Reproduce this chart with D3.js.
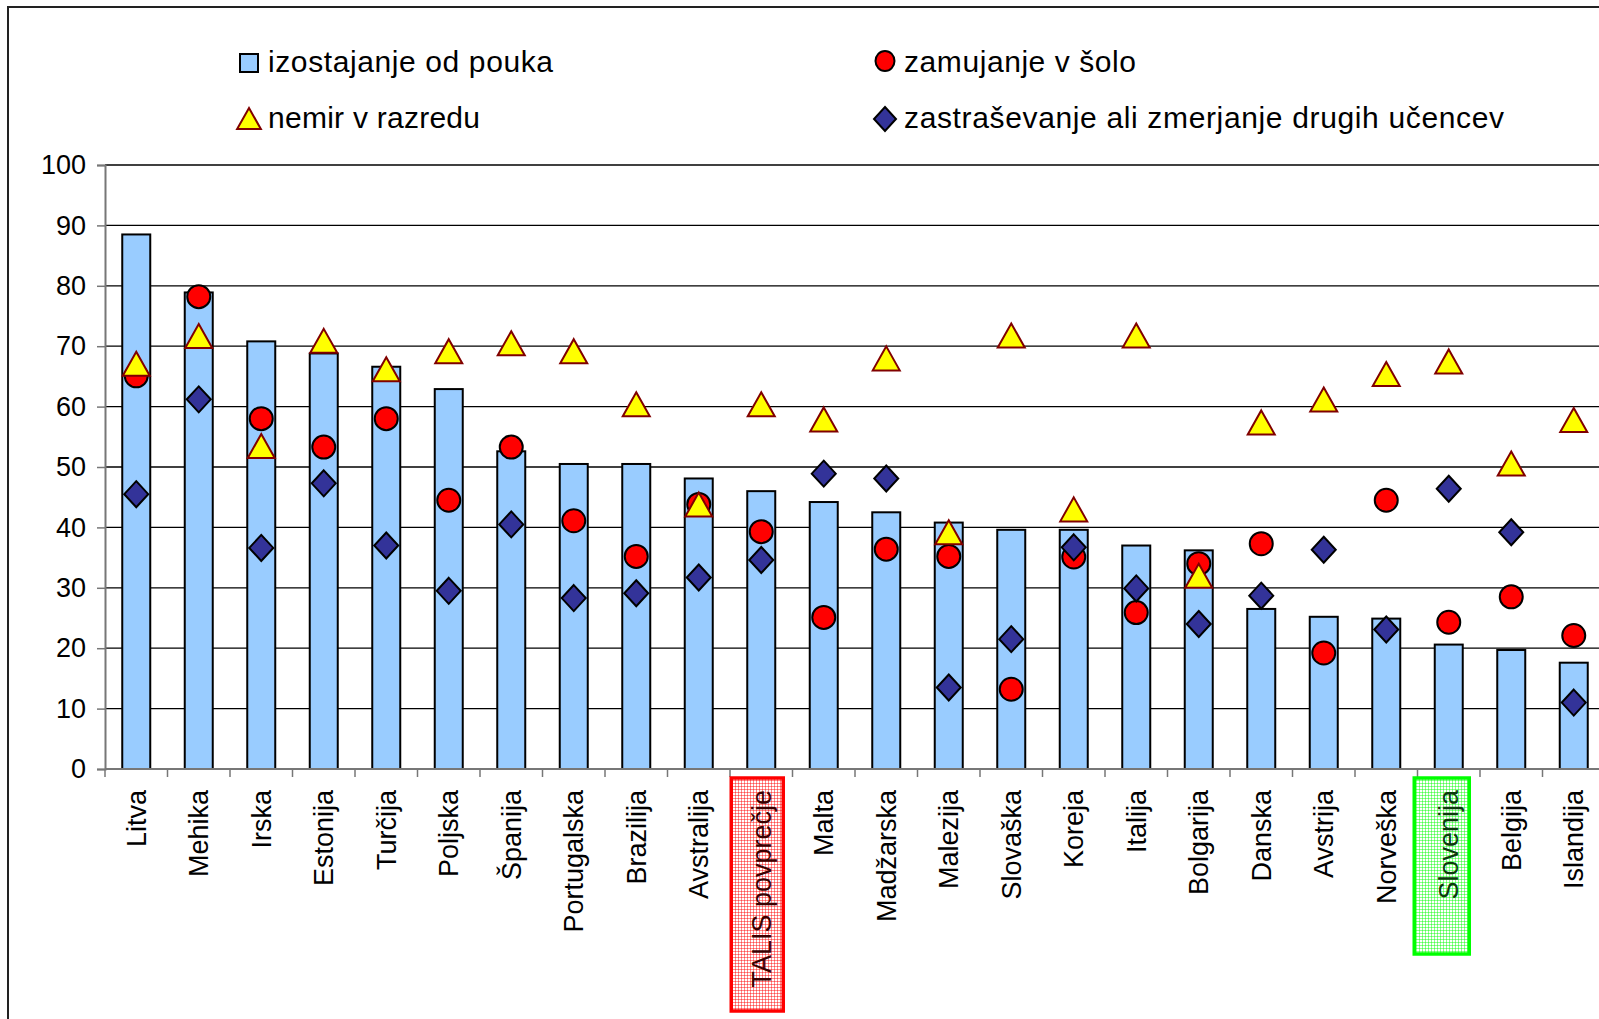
<!DOCTYPE html>
<html>
<head>
<meta charset="utf-8">
<script src="https://cdn.jsdelivr.net/npm/d3@7"></script>
<style>
  html, body { margin: 0; padding: 0; background: #fff; overflow: hidden; }
  text { font-family: "Liberation Sans", Arial, sans-serif; fill: #000; }
</style>
</head>
<body>
<svg id="chart"></svg>
<script>
let width = 1599
let height = 1019

// data
let categories = ['Litva', 'Mehika', 'Irska', 'Estonija', 'Turčija', 'Poljska', 'Španija', 'Portugalska',
    'Brazilija', 'Avstralija', 'TALIS povprečje', 'Malta', 'Madžarska', 'Malezija', 'Slovaška', 'Koreja',
    'Italija', 'Bolgarija', 'Danska', 'Avstrija', 'Norveška', 'Slovenija', 'Belgija', 'Islandija']

let absence = [88.5, 78.9, 70.8, 68.8, 66.6, 62.9, 52.6, 50.5, 50.5, 48.1, 46.0, 44.2,
    42.5, 40.8, 39.6, 39.6, 37.0, 36.2, 26.5, 25.2, 24.9, 20.6, 19.7, 17.6]
let late = [65.1, 78.2, 58.0, 53.3, 58.0, 44.5, 53.3, 41.1, 35.2, 43.8, 39.3, 25.1,
    36.4, 35.2, 13.2, 35.1, 25.9, 34.0, 37.3, 19.2, 44.5, 24.3, 28.5, 22.1]
let disruption = [67.0, 71.6, 53.4, 70.8, 66.1, 69.1, 70.4, 69.1, 60.3, 43.7, 60.3, 57.8,
    67.9, 39.1, 71.7, 42.9, 71.7, 31.9, 57.3, 61.1, 65.3, 67.4, 50.5, 57.7]
let bullying = [45.5, 61.2, 36.6, 47.3, 37.0, 29.5, 40.5, 28.3, 29.1, 31.7, 34.6, 48.9,
    48.1, 13.5, 21.5, 36.7, 29.9, 24.0, 28.7, 36.3, 23.1, 46.4, 39.2, 11.0]

let seriesNames = ['izostajanje od pouka', 'zamujanje v šolo', 'nemir v razredu',
    'zastraševanje ali zmerjanje drugih učencev']
let yTicks = [0, 10, 20, 30, 40, 50, 60, 70, 80, 90, 100]

let highlighted = ['TALIS povprečje', 'Slovenija']

let svg = d3.select('#chart')
    .attr('width', width)
    .attr('height', height)

let defs = svg.append('defs')
let makeGrid = (id, color) => {
    let p = defs.append('pattern')
        .attr('id', id)
        .attr('width', 3)
        .attr('height', 3)
        .attr('patternUnits', 'userSpaceOnUse')
    p.append('rect').attr('width', 3).attr('height', 3).attr('fill', '#fff')
    p.append('rect').attr('width', 3).attr('height', 1).attr('fill', color).attr('fill-opacity', 0.45)
    p.append('rect').attr('width', 1).attr('height', 3).attr('fill', color).attr('fill-opacity', 0.45)
}
makeGrid('gridRed', '#ff0000')
makeGrid('gridGreen', '#00ff00')

// outer frame (cut off on the right and bottom)
svg.append('rect')
    .attr('x', 8).attr('y', 7)
    .attr('width', 1700).attr('height', 1100)
    .attr('fill', 'none')
    .attr('stroke', '#222')
    .attr('stroke-width', 2)

let x = d3.scaleBand().domain(categories).range([105, 1605]).padding(0)
let y = d3.scaleLinear().domain([0, 100]).range([769, 165])
let bw = x.bandwidth()
let cx = (c) => x(c) + bw / 2

// gridlines
svg.append('g')
    .selectAll('line')
    .data(yTicks.filter(d => d > 0))
    .enter()
    .append('line')
    .attr('x1', 105).attr('x2', 1605)
    .attr('y1', d => y(d)).attr('y2', d => y(d))
    .attr('stroke', '#000')
    .attr('stroke-width', 1.3)

// y axis
let yAxis = svg.append('g')
    .attr('transform', 'translate(105,0)')
    .call(d3.axisLeft(y).tickValues(yTicks).tickSize(8).tickPadding(11))
yAxis.select('.domain').attr('stroke', '#777').attr('stroke-width', 2)
yAxis.selectAll('.tick line').attr('stroke', '#777').attr('stroke-width', 1.5)
yAxis.selectAll('.tick text')
    .style('font-family', '"Liberation Sans", Arial, sans-serif')
    .style('font-size', '27px')
    .attr('fill', '#000')

// bars
svg.append('g')
    .selectAll('rect')
    .data(categories)
    .enter()
    .append('rect')
    .attr('x', (d) => cx(d) - 14)
    .attr('width', 28)
    .attr('y', (d, i) => y(absence[i]))
    .attr('height', (d, i) => y(0) - y(absence[i]))
    .attr('fill', '#99ccff')
    .attr('stroke', '#000')
    .attr('stroke-width', 2)

// x axis
svg.append('line')
    .attr('x1', 105).attr('x2', 1605)
    .attr('y1', y(0)).attr('y2', y(0))
    .attr('stroke', '#777').attr('stroke-width', 2)
svg.append('g')
    .selectAll('line')
    .data(categories.concat(['end']))
    .enter()
    .append('line')
    .attr('x1', (d, i) => 105 + i * bw).attr('x2', (d, i) => 105 + i * bw)
    .attr('y1', y(0)).attr('y2', y(0) + 8)
    .attr('stroke', '#777').attr('stroke-width', 1.5)

// highlight boxes behind the two labels
let boxes = [
    { cat: highlighted[0], stroke: '#ff0000', fill: 'url(#gridRed)', text: '#3a0000', w: 52, shift: -4, len: 233 },
    { cat: highlighted[1], stroke: '#00ff00', fill: 'url(#gridGreen)', text: '#0c3a0c', w: 55, shift: -7, len: 176 }
]
svg.append('g')
    .selectAll('rect')
    .data(boxes)
    .enter()
    .append('rect')
    .attr('x', d => cx(d.cat) + d.shift - d.w / 2)
    .attr('y', 778)
    .attr('width', d => d.w)
    .attr('height', d => d.len)
    .attr('fill', d => d.fill)
    .attr('stroke', d => d.stroke)
    .attr('stroke-width', 3.5)

// category labels
svg.append('g')
    .selectAll('text')
    .data(categories)
    .enter()
    .append('text')
    .attr('transform', d => 'translate(' + cx(d) + ',790) rotate(-90)')
    .attr('text-anchor', 'end')
    .attr('dy', '0.36em')
    .style('font-size', '27px')
    .style('fill', d => {
        let b = boxes.find(e => e.cat === d)
        return b ? b.text : '#000'
    })
    .text(d => d)

// markers
let trianglePath = (s) => 'M0,' + (-s) + ' L' + (s * 1.08) + ',' + (s * 0.92) + ' L' + (-s * 1.08) + ',' + (s * 0.92) + ' Z'
let diamondPath = (w, h) => 'M0,' + (-h) + ' L' + w + ',0 L0,' + h + ' L' + (-w) + ',0 Z'

svg.append('g')
    .selectAll('circle')
    .data(categories)
    .enter()
    .append('circle')
    .attr('cx', d => cx(d))
    .attr('cy', (d, i) => y(late[i]))
    .attr('r', 11.5)
    .attr('fill', '#ff0000')
    .attr('stroke', '#000')
    .attr('stroke-width', 2)

svg.append('g')
    .selectAll('path')
    .data(categories)
    .enter()
    .append('path')
    .attr('d', trianglePath(12.5))
    .attr('transform', (d, i) => 'translate(' + cx(d) + ',' + y(disruption[i]) + ')')
    .attr('fill', '#ffff00')
    .attr('stroke', '#800000')
    .attr('stroke-width', 2)

svg.append('g')
    .selectAll('path')
    .data(categories)
    .enter()
    .append('path')
    .attr('d', diamondPath(12, 13))
    .attr('transform', (d, i) => 'translate(' + cx(d) + ',' + y(bullying[i]) + ')')
    .attr('fill', '#333399')
    .attr('stroke', '#000')
    .attr('stroke-width', 2)

// legend
let legend = svg.append('g')
let legendItems = [
    { name: seriesNames[0], x: 249, y: 63, len: 285 },
    { name: seriesNames[1], x: 885, y: 63, len: 232 },
    { name: seriesNames[2], x: 249, y: 119, len: 212 },
    { name: seriesNames[3], x: 885, y: 119, len: 600 }
]
legend.append('rect')
    .attr('x', legendItems[0].x - 9).attr('y', legendItems[0].y - 9)
    .attr('width', 18).attr('height', 18)
    .attr('fill', '#99ccff').attr('stroke', '#000').attr('stroke-width', 2)
legend.append('ellipse')
    .attr('cx', legendItems[1].x).attr('cy', legendItems[1].y - 2)
    .attr('rx', 9.5).attr('ry', 10)
    .attr('fill', '#ff0000').attr('stroke', '#000').attr('stroke-width', 2)
legend.append('path')
    .attr('d', trianglePath(11))
    .attr('transform', 'translate(' + legendItems[2].x + ',' + legendItems[2].y + ')')
    .attr('fill', '#ffff00').attr('stroke', '#800000').attr('stroke-width', 2)
legend.append('path')
    .attr('d', diamondPath(11, 12))
    .attr('transform', 'translate(' + legendItems[3].x + ',' + legendItems[3].y + ')')
    .attr('fill', '#333399').attr('stroke', '#000').attr('stroke-width', 2)

legend.selectAll('text')
    .data(legendItems)
    .enter()
    .append('text')
    .attr('x', d => d.x + 19)
    .attr('y', d => d.y + 9)
    .attr('textLength', d => d.len)
    .attr('lengthAdjust', 'spacing')
    .style('font-size', '30px')
    .text(d => d.name)
</script>
</body>
</html>
